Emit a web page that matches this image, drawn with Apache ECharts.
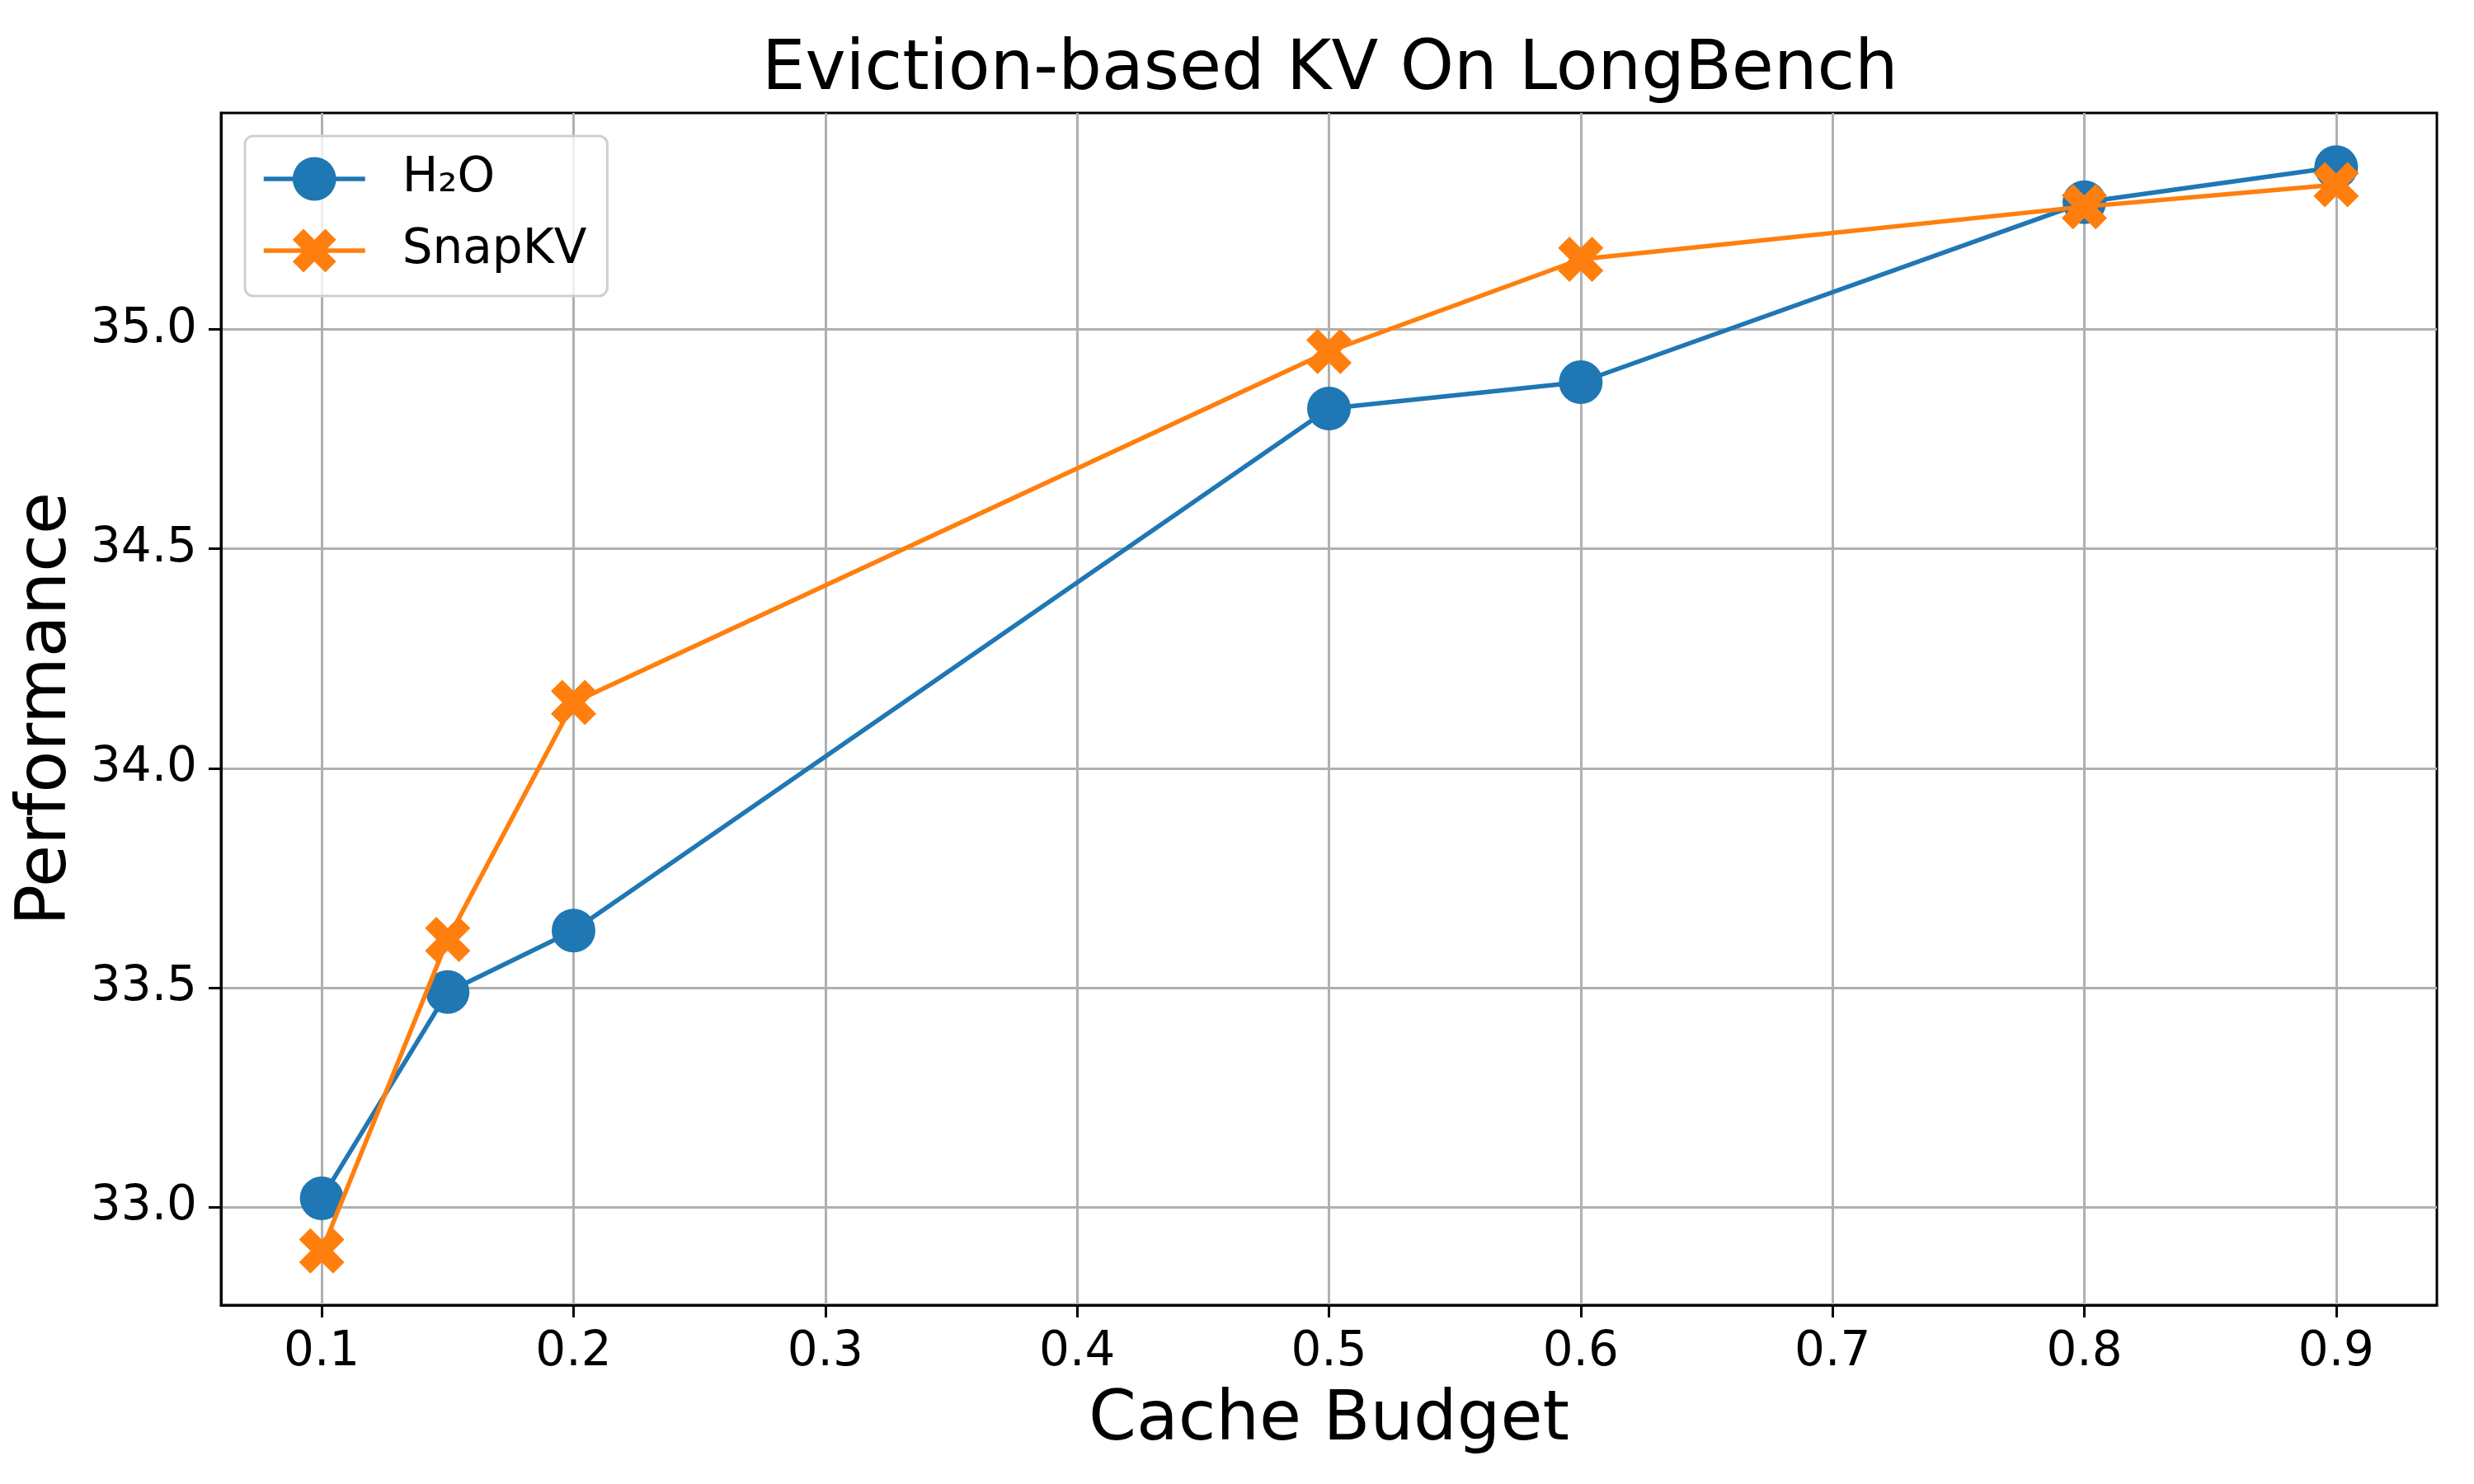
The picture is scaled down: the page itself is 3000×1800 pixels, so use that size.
<!DOCTYPE html>
<html>
<head>
<meta charset="utf-8">
<script src="https://cdn.jsdelivr.net/npm/echarts@6/dist/echarts.min.js"></script>
<style>
  html, body { margin: 0; padding: 0; background: #fff; }
  #chart { width: 3000px; height: 1800px; }
</style>
</head>
<body>
<div id="chart"></div>
<script>
// Eviction-based KV cache on LongBench: score vs cache budget.
const budgets = [0.1, 0.15, 0.2, 0.5, 0.6, 0.8, 0.9];
const h2oScores = [33.02, 33.49, 33.63, 34.82, 34.88, 35.29, 35.37];
const snapkvScores = [32.90, 33.61, 34.15, 34.95, 35.16, 35.28, 35.33];
const xTicks = [0.1, 0.2, 0.3, 0.4, 0.5, 0.6, 0.7, 0.8, 0.9];
const yTicks = [33.0, 33.5, 34.0, 34.5, 35.0];

const FONT = 'DejaVu Sans';
const BLUE = '#1f77b4', ORANGE = '#ff7f0e';
// matplotlib's filled 'X' marker
const X_MARK = 'path://M0.25,0 L0.5,0.25 L0.75,0 L1,0.25 L0.75,0.5 L1,0.75 L0.75,1 L0.5,0.75 L0.25,1 L0,0.75 L0.25,0.5 L0,0.25 Z';

// autoscale like matplotlib: 5% margin each side of the data
const pad = (lo, hi) => [lo - (hi - lo) * 0.05, hi + (hi - lo) * 0.05];
const [xMin, xMax] = pad(Math.min(...budgets), Math.max(...budgets));
const allY = h2oScores.concat(snapkvScores);
const [yMin, yMax] = pad(Math.min(...allY), Math.max(...allY));

const pairs = (ys) => budgets.map((x, i) => [x, ys[i]]);

const chart = echarts.init(document.getElementById('chart'), null, { renderer: 'canvas' });
chart.setOption({
  animation: false,
  backgroundColor: '#fff',
  textStyle: { fontFamily: FONT },
  title: {
    text: 'Eviction-based KV On LongBench',
    left: 919, top: 40,
    textStyle: { fontFamily: FONT, fontSize: 83, fontWeight: 'normal', color: '#000' },
  },
  legend: {
    orient: 'vertical', left: 297, top: 165,
    padding: [23, 25, 26, 20],
    itemWidth: 123, itemHeight: 66, itemGap: 29,
    backgroundColor: 'rgba(255,255,255,0.8)',
    borderColor: '#d0d0d0', borderWidth: 3, borderRadius: 10,
    lineStyle: { width: 5.5 },
    textStyle: { fontFamily: FONT, fontSize: 58, color: '#000', padding: [0, 0, 0, 40] },
    data: ['H₂O', 'SnapKV'],
  },
  grid: {
    left: 268, right: 45, top: 137, bottom: 217,
    show: true, borderColor: '#000', borderWidth: 3, backgroundColor: 'transparent',
  },
  xAxis: {
    type: 'value', min: xMin, max: xMax,
    name: 'Cache Budget', nameLocation: 'middle', nameGap: 100,
    nameTextStyle: { fontFamily: FONT, fontSize: 83, color: '#000' },
    axisLine: { show: true, onZero: false, lineStyle: { color: '#000', width: 3 } },
    axisTick: { show: true, inside: false, length: 15, customValues: xTicks, lineStyle: { color: '#000', width: 3 } },
    axisLabel: { customValues: xTicks, margin: 29, fontFamily: FONT, fontSize: 58, color: '#000', formatter: (v) => v.toFixed(1) },
    splitLine: { show: true, lineStyle: { color: '#b0b0b0', width: 3 } },
  },
  yAxis: {
    type: 'value', min: yMin, max: yMax,
    name: 'Performance', nameLocation: 'middle', nameGap: 166,
    nameTextStyle: { fontFamily: FONT, fontSize: 83, color: '#000' },
    axisLine: { show: true, onZero: false, lineStyle: { color: '#000', width: 3 } },
    axisTick: { show: true, inside: false, length: 15, customValues: yTicks, lineStyle: { color: '#000', width: 3 } },
    axisLabel: { customValues: yTicks, margin: 29, fontFamily: FONT, fontSize: 58, color: '#000', formatter: (v) => v.toFixed(1) },
    splitLine: { show: true, lineStyle: { color: '#b0b0b0', width: 3 } },
  },
  series: [
    {
      name: 'H₂O', type: 'line', z: 2,
      data: pairs(h2oScores),
      symbol: 'circle', symbolSize: 53,
      itemStyle: { color: BLUE },
      lineStyle: { color: BLUE, width: 5.5 },
    },
    {
      name: 'SnapKV', type: 'line', z: 3,
      data: pairs(snapkvScores),
      symbol: X_MARK, symbolSize: 55,
      itemStyle: { color: ORANGE },
      lineStyle: { color: ORANGE, width: 5.5 },
    },
  ],
});
</script>
</body>
</html>
